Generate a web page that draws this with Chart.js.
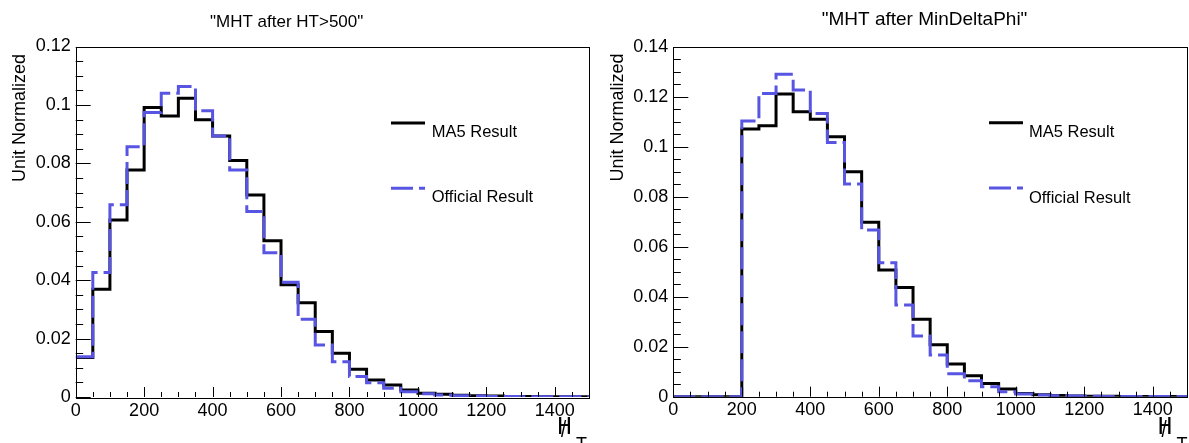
<!DOCTYPE html>
<html><head><meta charset="utf-8">
<script src="https://cdn.jsdelivr.net/npm/chart.js@4.4.1/dist/chart.umd.min.js"></script>
<style>
html,body{margin:0;padding:0;background:#fff;overflow:hidden;}
#wrap{position:relative;width:1189px;height:443px;background:#fff;}
canvas{position:absolute;top:0;}
#c1{left:0;} #c2{left:595px;}
</style></head><body>
<div id="wrap"><canvas id="c1" width="595" height="443"></canvas><canvas id="c2" width="594" height="443"></canvas></div>
<script>
// ---- data ----
const binEdges = [0,50,100,150,200,250,300,350,400,450,500,550,600,650,700,750,800,850,900,950,1000,1050,1100,1150,1200,1250,1300,1350,1400,1450,1500];
const xTickValues = [0,200,400,600,800,1000,1200,1400];
const xTickLabels = ['0','200','400','600','800','1000','1200','1400'];
const leftYTickValues = [0,0.02,0.04,0.06,0.08,0.1,0.12];
const leftYTickLabels = ['0','0.02','0.04','0.06','0.08','0.1','0.12'];
const rightYTickValues = [0,0.02,0.04,0.06,0.08,0.1,0.12,0.14];
const rightYTickLabels = ['0','0.02','0.04','0.06','0.08','0.1','0.12','0.14'];
const seriesNames = ['MA5 Result','Official Result'];
const plotTitles = ['"MHT after HT>500"','"MHT after MinDeltaPhi"'];
const yAxisTitle = 'Unit Normalized';
const xAxisTitleMain = 'H';
const xAxisTitleSub = 'T';

const leftMA5 = [0.0135,0.0369,0.0606,0.0777,0.0991,0.0962,0.1023,0.0949,0.0894,0.0810,0.0692,0.0535,0.0384,0.0323,0.0224,0.0150,0.0095,0.0058,0.0041,0.0024,0.0013,0.0009,0.0006,0.0004,0.0003,0.0002,0.0002,0.0001,0.0001,0.0001];
const leftOfficial = [0.0138,0.0426,0.0658,0.0857,0.0974,0.1040,0.1063,0.0980,0.0894,0.0777,0.0635,0.0494,0.0393,0.0266,0.0178,0.0121,0.0070,0.0049,0.0030,0.0018,0.0011,0.0007,0.0004,0.0003,0.0002,0.0002,0.0001,0.0001,0.0001,0.0001];
const rightMA5 = [0,0,0,0,0.1071,0.1084,0.1211,0.1140,0.1110,0.1040,0.0900,0.0698,0.0507,0.0437,0.0310,0.0208,0.0131,0.0084,0.0053,0.0031,0.0013,0.0008,0.0005,0.0003,0.0002,0.0002,0.0001,0.0001,0.0001,0.0001];
const rightOfficial = [0,0,0,0,0.1103,0.1213,0.1290,0.1227,0.1133,0.1017,0.0851,0.0667,0.0536,0.0367,0.0243,0.0167,0.0092,0.0064,0.0040,0.0020,0.0011,0.0007,0.0004,0.0003,0.0002,0.0001,0.0001,0.0001,0.0001,0.0001];

// ---- styling ----
const FONT = '"Liberation Sans", Arial, Helvetica, sans-serif';
const BLACK = '#000000';
const BLUE = 'rgb(88,85,226)';
const DASH = [22,6];

function toPoints(values){
  return binEdges.map((e,i)=>({x:e, y: values[Math.min(i, values.length-1)]}));
}

const decor = {
  id:'decor',
  afterDraw(chart, args, o){
    const ctx = chart.ctx, a = chart.chartArea, xs = chart.scales.x, ys = chart.scales.y;
    ctx.save();
    ctx.strokeStyle = '#000'; ctx.lineWidth = 1; ctx.setLineDash([]);
    ctx.strokeRect(Math.round(a.left)+0.5, Math.round(a.top)+0.5, Math.round(a.right-a.left), Math.round(a.bottom-a.top));
    ctx.beginPath();
    const nMinorY = Math.round(o.yMax / o.yMinor);
    for (let i=0;i<=nMinorY;i++){
      const v = i*o.yMinor;
      const major = (i % o.yMinorPerMajor) === 0;
      const p = Math.round(ys.getPixelForValue(v))+0.5;
      ctx.moveTo(a.left, p); ctx.lineTo(a.left + (major?15:7.5), p);
    }
    for (let i=0;i<=30;i++){
      const v = i*50;
      const major = (i % 4) === 0;
      const p = Math.round(xs.getPixelForValue(v))+0.5;
      ctx.moveTo(p, a.bottom); ctx.lineTo(p, a.bottom - (major?10:5));
    }
    ctx.stroke();

    // title
    ctx.fillStyle = '#000';
    ctx.font = o.titleSize + 'px ' + FONT;
    ctx.textAlign = 'left'; ctx.textBaseline = 'alphabetic';
    ctx.fillText(o.title, o.titleX, o.titleY);

    // y axis title
    ctx.save();
    ctx.translate(o.yLabelX, o.yLabelTop);
    ctx.rotate(-Math.PI/2);
    ctx.font = '18px ' + FONT;
    ctx.textAlign = 'right'; ctx.textBaseline = 'middle';
    ctx.fillText(yAxisTitle, 0, 0);
    ctx.restore();

    // x axis title (slashed H with subscript T)
    ctx.save();
    ctx.translate(o.xLabelX, 434);
    ctx.scale(0.78, 1);
    ctx.font = '24px ' + FONT;
    ctx.textAlign = 'left'; ctx.textBaseline = 'alphabetic';
    ctx.fillText(xAxisTitleMain, 0, 0);
    ctx.fillText(xAxisTitleMain, 0.8, 0);
    ctx.fillText('/', 4.5, 3);
    ctx.restore();
    ctx.font = '18px ' + FONT;
    ctx.textAlign = 'left'; ctx.textBaseline = 'alphabetic';
    ctx.fillText(xAxisTitleSub, o.xLabelX + 18.5, 450);

    // legend
    const ds = chart.data.datasets;
    const rows = [{d: ds[1], y: o.legY1, ty: o.legTY1}, {d: ds[0], y: o.legY2, ty: o.legTY2}];
    rows.forEach(r=>{
      ctx.beginPath();
      ctx.strokeStyle = r.d.borderColor; ctx.lineWidth = 3;
      ctx.setLineDash(r.d.borderDash || []);
      ctx.moveTo(o.legX1, r.y); ctx.lineTo(o.legX2, r.y); ctx.stroke();
      ctx.setLineDash([]);
      ctx.fillStyle = '#000';
      ctx.font = '16.5px ' + FONT;
      ctx.textAlign = 'left'; ctx.textBaseline = 'middle';
      ctx.fillText(r.d.label, o.legTX, r.ty);
    });
    ctx.restore();
  }
};

function makeChart(id, ma5, official, yTicks, yLabels, yMax, lay, deco){
  return new Chart(document.getElementById(id), {
    type:'line',
    data:{ datasets:[
      {label: seriesNames[1], data: toPoints(official), borderColor: BLUE, borderWidth: 3, borderDash: DASH, stepped: true, pointRadius: 0, fill: false, order: 1},
      {label: seriesNames[0], data: toPoints(ma5), borderColor: BLACK, borderWidth: 3, stepped: true, pointRadius: 0, fill: false, order: 2}
    ]},
    options:{
      responsive:false, animation:false, devicePixelRatio:1,
      layout:{padding:{top:lay.top, right:lay.right, bottom:0, left:0}},
      plugins:{legend:{display:false}, tooltip:{enabled:false}, title:{display:false}, decor: deco},
      scales:{
        x:{type:'linear', min:0, max:1500,
          afterBuildTicks: s => { s.ticks = xTickValues.map(v=>({value:v})); },
          afterFit: s => { s.height = lay.xH; },
          ticks:{autoSkip:false, maxRotation:0, minRotation:0, padding:3, color:'#000', font:{family:FONT, size:18},
            callback:(v,i)=> xTickLabels[i]},
          grid:{display:false, drawTicks:false}, border:{display:false}},
        y:{type:'linear', min:0, max:yMax,
          afterBuildTicks: s => { s.ticks = yTicks.map(v=>({value:v})); },
          afterFit: s => { s.width = lay.yW; },
          ticks:{autoSkip:false, padding:5, color:'#000', font:{family:FONT, size:18},
            callback:(v,i)=> yLabels[i]},
          grid:{display:false, drawTicks:false}, border:{display:false}}
      }
    },
    plugins:[decor]
  });
}

makeChart('c1', leftMA5, leftOfficial, leftYTickValues, leftYTickLabels, 0.12,
  {top:46.5, right:6, xH:46, yW:75.7},
  {yMax:0.12, yMinor:0.005, yMinorPerMajor:4, title: plotTitles[0], titleSize:17, titleX:210, titleY:26.5,
   yLabelX:19.7, yLabelTop:54, xLabelX:557.5,
   legX1:391, legX2:425, legY1:123, legTY1:132.5, legY2:188.3, legTY2:197.7, legTX:431.7});

makeChart('c2', rightMA5, rightOfficial, rightYTickValues, rightYTickLabels, 0.14,
  {top:46.7, right:2, xH:46.3, yW:78.3},
  {yMax:0.14, yMinor:0.005, yMinorPerMajor:4, title: plotTitles[1], titleSize:19, titleX:226.7, titleY:25,
   yLabelX:23.3, yLabelTop:53.5, xLabelX:563,
   legX1:394, legX2:428, legY1:122.7, legTY1:132, legY2:188, legTY2:198, legTX:434});
</script>
</body></html>
